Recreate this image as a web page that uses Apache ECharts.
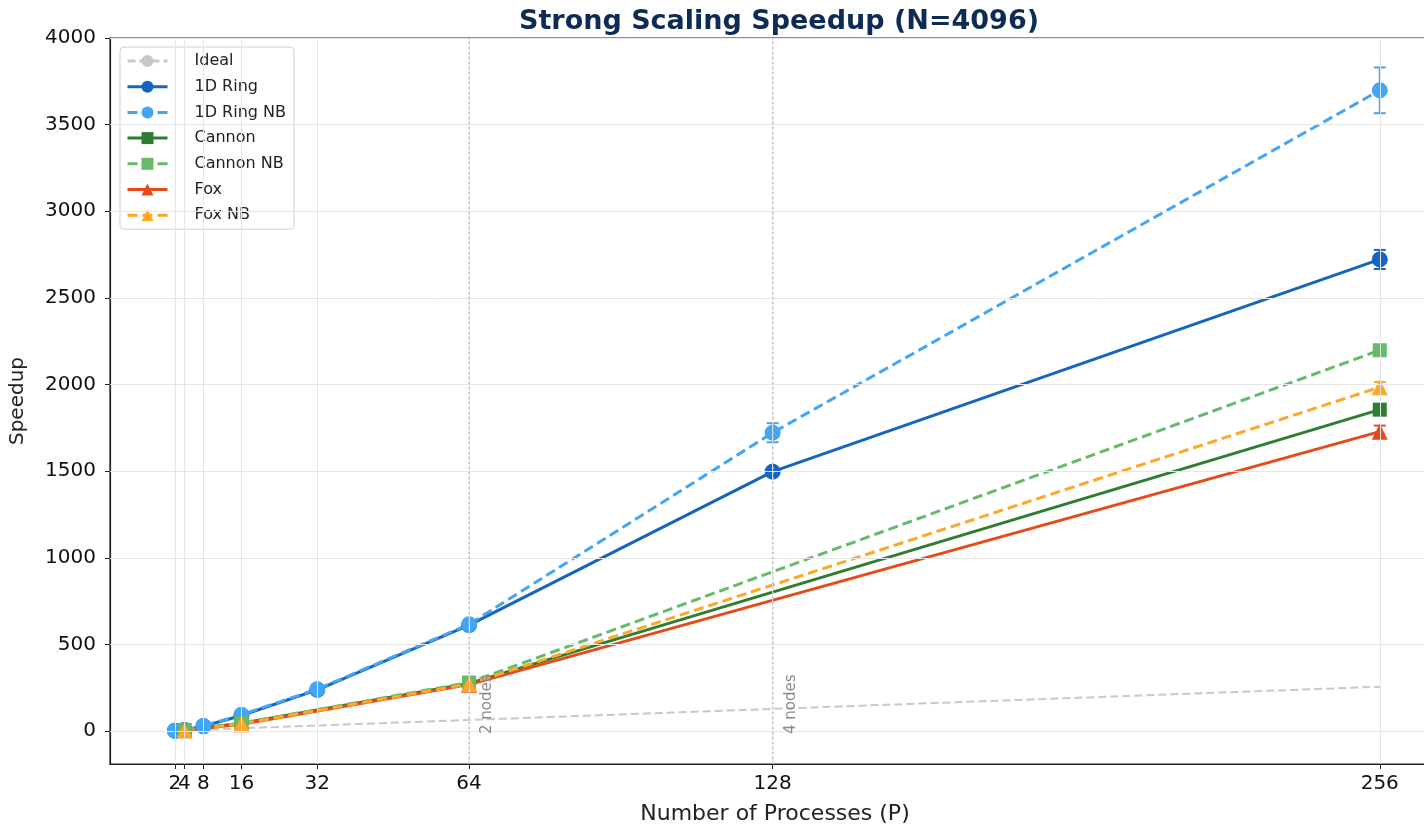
<!DOCTYPE html>
<html>
<head>
<meta charset="utf-8">
<script src="https://cdn.jsdelivr.net/npm/echarts@6/dist/echarts.min.js"></script>
<style>
  html, body { margin: 0; padding: 0; background: #fff; }
  #chart { width: 1424px; height: 824px; }
</style>
</head>
<body>
<div id="chart"></div>
<script>
// data
var xTicks = [2, 4, 8, 16, 32, 64, 128, 256];
var xLabelsMain = [2, 8, 16, 32, 64, 128, 256];
var xLabelsExtra = [4]; // sits on top of "2", so it gets its own axis
var yTicks = [0, 500, 1000, 1500, 2000, 2500, 3000, 3500, 4000];
var nodeMarks = [64, 128];
var nodeLabels = ["2 nodes", "4 nodes"];

var procRing = [2, 4, 8, 16, 32, 64, 128, 256];
var idealVals = [2, 4, 8, 16, 32, 64, 128, 256];
var ring = [2, 6, 28, 90, 238, 612, 1497, 2722];
var ringErr = [0.2, 0.5, 1, 3, 5, 8, 10, 55];
var ringNB = [2, 6, 30, 94, 242, 616, 1722, 3698];
var ringNBErr = [0.2, 0.5, 1, 3, 6, 10, 55, 132];

var procGrid = [4, 16, 64, 256];
var cannon = [5, 45, 275, 1855];
var cannonErr = [0.3, 2, 5, 15];
var cannonNB = [5, 46, 280, 2198];
var cannonNBErr = [0.3, 2, 5, 15];
var fox = [5, 40, 268, 1728];
var foxErr = [0.3, 2, 5, 35];
var foxNB = [5, 42, 272, 1985];
var foxNBErr = [0.3, 2, 5, 30];

var font = "DejaVu Sans";
var xMin = -11.7, xMax = 268.7;

function pairs(xs, ys) {
  return xs.map(function (x, i) { return [x, ys[i]]; });
}
function triples(xs, ys, es) {
  return xs.map(function (x, i) { return [x, ys[i], es[i]]; });
}

function lineSeries(name, xs, ys, color, symbol, size, dashed) {
  return {
    name: name,
    type: "line",
    data: pairs(xs, ys),
    symbol: symbol,
    symbolSize: size,
    showAllSymbol: true,
    z: 3,
    lineStyle: { color: color, width: 3, type: dashed ? [10, 5] : "solid" },
    itemStyle: { color: color },
    emphasis: { disabled: true },
  };
}

function errSeries(name, xs, ys, es, color) {
  return {
    name: name,
    type: "custom",
    z: 2,
    silent: true,
    data: triples(xs, ys, es),
    encode: { x: 0, y: 1 },
    renderItem: function (params, api) {
      var x = api.value(0), y = api.value(1), e = api.value(2);
      var top = api.coord([x, y + e]);
      var bot = api.coord([x, y - e]);
      var hw = 6;
      var st = { stroke: color, lineWidth: 2 };
      return {
        type: "group",
        children: [
          { type: "line", shape: { x1: top[0], y1: top[1], x2: bot[0], y2: bot[1] }, style: st },
          { type: "line", shape: { x1: top[0] - hw, y1: top[1], x2: top[0] + hw, y2: top[1] }, style: st },
          { type: "line", shape: { x1: bot[0] - hw, y1: bot[1], x2: bot[0] + hw, y2: bot[1] }, style: st },
        ],
      };
    },
  };
}

// grid lines drawn as markLines at the tick values
var gridMarks = xTicks.map(function (v) { return { xAxis: v }; })
  .concat(yTicks.map(function (v) { return { yAxis: v }; }));

var xLabelStyle = {
  margin: 10,
  fontSize: 20,
  color: "#111",
  fontFamily: font,
  formatter: function (v) { return String(v); },
};

var myChart = echarts.init(document.getElementById("chart"));

var option = {
  animation: false,
  textStyle: { fontFamily: font },
  title: {
    text: "Strong Scaling Speedup (N=4096)",
    left: 774,
    textAlign: "center",
    top: 3,
    textStyle: { fontFamily: font, fontSize: 27, fontWeight: "bold", color: "#0d2b55" },
  },
  legend: {
    orient: "vertical",
    left: 120,
    top: 47,
    padding: [6, 8, 6, 6],
    itemWidth: 40,
    itemHeight: 15,
    itemGap: 9.7,
    backgroundColor: "rgba(255,255,255,0.85)",
    borderColor: "#d0d0d0",
    borderWidth: 1,
    borderRadius: 4,
    lineStyle: { width: 3 },
    textStyle: { fontFamily: font, fontSize: 16, color: "#222", padding: [0, 0, 0, 22] },
    data: ["Ideal", "1D Ring", "1D Ring NB", "Cannon", "Cannon NB", "Fox", "Fox NB"],
  },
  grid: {
    left: 110,
    right: -16,
    top: 38,
    bottom: 60,
    containLabel: false,
    outerBoundsMode: "none",
    show: true,
    borderColor: "#222",
    borderWidth: 1.2,
  },
  xAxis: [
    {
      type: "value",
      min: xMin,
      max: xMax,
      name: "Number of Processes (P)",
      nameLocation: "middle",
      nameGap: 39,
      nameTextStyle: { fontFamily: font, fontSize: 22, color: "#222" },
      axisLine: { onZero: false, lineStyle: { color: "#222", width: 1.2 } },
      axisTick: { customValues: xTicks, length: 5, lineStyle: { color: "#222" } },
      axisLabel: Object.assign({ customValues: xLabelsMain, showMinLabel: true }, xLabelStyle),
      splitLine: { show: false },
    },
    {
      type: "value",
      min: xMin,
      max: xMax,
      position: "bottom",
      axisLine: { show: false, onZero: false },
      axisTick: { show: false },
      axisLabel: Object.assign({ customValues: xLabelsExtra, showMinLabel: true }, xLabelStyle),
      splitLine: { show: false },
    },
  ],
  yAxis: {
    type: "value",
    min: -190,
    max: 4000,
    name: "Speedup",
    nameLocation: "middle",
    nameGap: 82,
    nameTextStyle: { fontFamily: font, fontSize: 20, color: "#222" },
    axisLine: { show: true, onZero: false, lineStyle: { color: "#222", width: 1.2 } },
    axisTick: { show: true, customValues: yTicks, length: 5, lineStyle: { color: "#222" } },
    axisLabel: {
      customValues: yTicks,
      margin: 14,
      fontSize: 20,
      color: "#111",
      fontFamily: font,
      formatter: function (v) { return String(v); },
    },
    splitLine: { show: false },
  },
  series: [
    {
      name: "gridlines",
      type: "line",
      data: [],
      z: 0,
      markLine: {
        silent: true,
        symbol: "none",
        label: { show: false },
        lineStyle: { color: "#e6e6e6", width: 1, type: "solid" },
        data: gridMarks,
      },
    },
    {
      name: "nodes",
      type: "line",
      data: [],
      z: 1,
      markLine: {
        silent: true,
        symbol: "none",
        label: { show: false },
        lineStyle: { color: "#c4c4c4", width: 1.5, type: [2, 3] },
        data: nodeMarks.map(function (v) { return { xAxis: v }; }),
      },
    },
    {
      name: "Ideal",
      type: "line",
      data: pairs(procRing, idealVals),
      symbol: "none",
      z: 2,
      lineStyle: { color: "#c8c8c8", width: 2, type: [8, 4] },
      itemStyle: { color: "#c8c8c8" },
    },
    errSeries("1D Ring err", procRing, ring, ringErr, "#1565c0"),
    lineSeries("1D Ring", procRing, ring, "#1565c0", "circle", 16, false),
    errSeries("1D Ring NB err", procRing, ringNB, ringNBErr, "#42a5f5"),
    lineSeries("1D Ring NB", procRing, ringNB, "#42a5f5", "circle", 16, true),
    errSeries("Cannon err", procGrid, cannon, cannonErr, "#2e7d32"),
    lineSeries("Cannon", procGrid, cannon, "#2e7d32", "rect", 14, false),
    errSeries("Cannon NB err", procGrid, cannonNB, cannonNBErr, "#66bb6a"),
    lineSeries("Cannon NB", procGrid, cannonNB, "#66bb6a", "rect", 14, true),
    errSeries("Fox err", procGrid, fox, foxErr, "#e64a19"),
    lineSeries("Fox", procGrid, fox, "#e64a19", "triangle", 16, false),
    errSeries("Fox NB err", procGrid, foxNB, foxNBErr, "#ffa726"),
    lineSeries("Fox NB", procGrid, foxNB, "#ffa726", "triangle", 16, true),
  ],
};

myChart.setOption(option);

// rotated "n nodes" labels placed through the axes
var texts = nodeMarks.map(function (v, i) {
  var p = myChart.convertToPixel({ gridIndex: 0 }, [v, 0]);
  return {
    type: "text",
    x: p[0] + 11,
    y: p[1] + 3,
    rotation: Math.PI / 2,
    z: 5,
    style: {
      text: nodeLabels[i],
      fontFamily: font,
      fontSize: 15,
      fill: "#8a8a8a",
      align: "left",
      verticalAlign: "top",
    },
  };
});
myChart.setOption({ graphic: texts });

window.addEventListener("resize", function () {
  myChart.resize();
});
</script>
</body>
</html>
